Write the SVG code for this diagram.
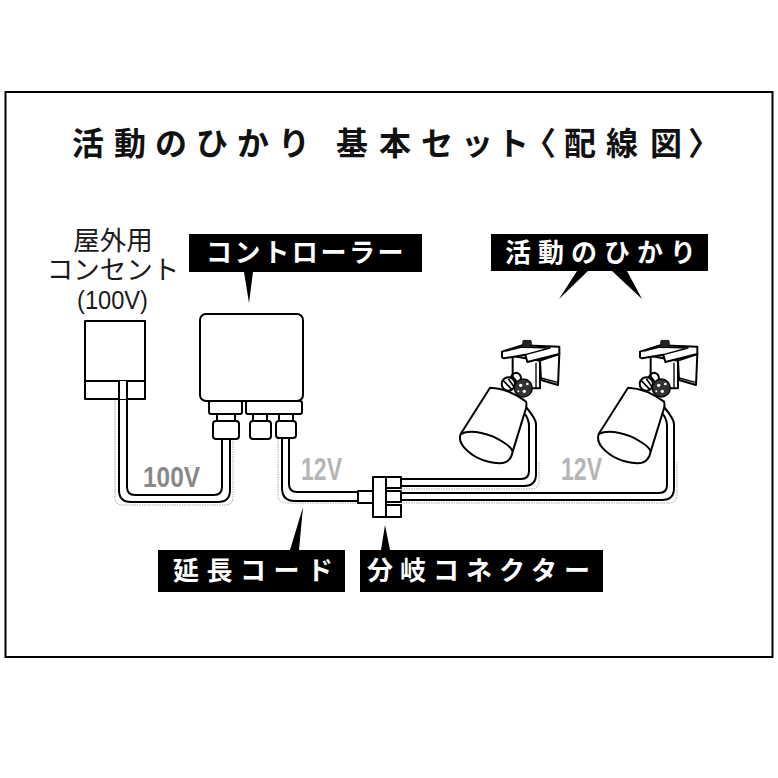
<svg xmlns="http://www.w3.org/2000/svg" width="778" height="778" viewBox="0 0 778 778">
<style>
.o{fill:#fff;stroke:#000;stroke-width:2;stroke-linejoin:round}
.c{fill:none;stroke:#000;stroke-width:2}
.d{fill:none;stroke:#aaa;stroke-width:1;stroke-dasharray:1.5 1}
.t{font-family:"Noto Sans CJK JP",sans-serif}
.w{fill:#fff;font-weight:700;font-size:26px}
.k{fill:#1a1a1a;font-size:26.500px;text-anchor:middle}
.n{font-family:"Liberation Sans",sans-serif}
.g{font-weight:700}
.b{fill:#000}
</style>
<defs>
<g id="lamp">
<g fill="#fff" stroke="#000" stroke-width="6" stroke-linejoin="round">
<path d="M218 108 L218 170 L245 205 L300 205 L300 122 Z"/>
<path d="M300 122 L358 102 L354 195 L303 180 Z"/>
<path fill="none" stroke-width="4" d="M288 128 L288 205"/>
<path fill="none" stroke-width="4" d="M303 174 L355 188"/>
<path d="M186 95 L245 76 L358 80 L358 102 L262 126 L256 104 L192 115 L186 112 Z"/>
<path fill="none" stroke-width="4" d="M198 93 L245 81 L330 84 L256 104"/>
<rect x="248" y="61" width="26" height="22" rx="4" fill="#222" stroke-width="2"/>
<path fill="none" stroke-width="6" d="M208 182 Q215 158 230 158 Q245 162 243 182"/>
<circle cx="205" cy="192" r="20"/>
<path fill="none" stroke-width="5" d="M190 182 L215 208 M205 176 L222 200"/>
<circle cx="250" cy="204" r="27" fill="#333" stroke-width="4"/>
<circle cx="242" cy="196" r="5" fill="#fff" stroke="none"/>
<circle cx="262" cy="192" r="4" fill="#fff" stroke="none"/>
<circle cx="253" cy="214" r="5" fill="#fff" stroke="none"/>
<circle cx="235" cy="214" r="3" fill="#fff" stroke="none"/>
<path d="M150 203 Q205 205 258 245 Q262 255 255 275 L218 395 Q212 430 178 430 Q110 425 72 382 Q55 362 62 342 Z"/>
<path fill="none" d="M62 342 Q95 325 160 350 Q215 378 218 395"/>
</g>
</g>
</defs>
<rect id="frame" x="5.500" y="92" width="767" height="565" fill="#fff" stroke="#000" stroke-width="2"/>
<text id="title" class="t" x="72 114 155 196 237 278 310 336 379 421 461 497 524 564 606 650 688" y="155" font-size="32" font-weight="700" fill="#111">活動のひかり 基本セット〈配線図〉</text>

<g id="connectors">
<path class="d" d="M115 381 V497 Q115 505 123 505 H225 Q233 505 233 497 V439"/>
<path class="c" d="M119 381 V490 Q119 502 131 502 H218 Q230 502 230 490 V439"/>
<path class="c" d="M127 381 V487 Q127 495 135 495 H214 Q222 495 222 487 V439"/>
<path class="d" d="M278 439 V495 Q278 503 286 503 H358"/>
<path class="c" d="M282 439 V488 Q282 501 295 501 H358"/>
<path class="c" d="M289 439 V484 Q289 492 297 492 H358"/>
<path class="d" d="M401 489 H531 Q539 489 539 481 V462"/>
<path class="c" d="M401 479 H521 Q529 479 529 471 V426 Q529 420 525 414"/>
<path class="c" d="M401 486 H524 Q536 486 536 474 V424 Q536 419 526 407"/>
<path class="d" d="M401 503 H669 Q677 503 677 495 V462"/>
<path class="c" d="M401 493 H659 Q667 493 667 485 V426 Q667 420 663 414"/>
<path class="c" d="M401 500 H662 Q674 500 674 488 V424 Q674 419 664 407"/>
</g>

<g id="outlet">
<rect class="o" x="85" y="321" width="60" height="78"/>
<path class="c" d="M85 381 H145"/>
<path class="o" d="M119 381 H127 V399 H119 Z" style="stroke:none"/>
<path class="c" d="M119 381 V399 M127 381 V399"/>
<text class="t k" x="113" y="250">屋外用</text>
<text class="t k" x="113" y="279">コンセント</text>
<text class="n" x="77" y="309" font-size="26" textLength="71" lengthAdjust="spacingAndGlyphs" fill="#1a1a1a">(100V)</text>
</g>

<g id="controller">
<rect class="o" x="200" y="314" width="103" height="87" rx="6"/>
<rect class="o" x="209" y="401" width="33" height="13" rx="2"/>
<rect class="o" x="246" y="401" width="56" height="13" rx="2"/>
<rect class="o" x="217" y="414" width="18" height="7"/>
<rect class="o" x="213" y="421" width="26" height="18" rx="3"/>
<path class="c" d="M216 439 H236" stroke-width="3"/>
<rect class="o" x="253" y="414" width="14" height="7"/>
<rect class="o" x="250" y="421" width="21" height="18" rx="3"/>
<rect class="o" x="279" y="414" width="14" height="7"/>
<rect class="o" x="276" y="421" width="20" height="17" rx="3"/>
</g>

<g id="splitter">
<rect class="o" x="358" y="491" width="15" height="12"/>
<rect class="o" x="373" y="477" width="13" height="40"/>
<rect class="o" x="386" y="477" width="15" height="11"/>
<rect class="o" x="386" y="491" width="15" height="11"/>
<rect class="o" x="386" y="505" width="15" height="12"/>
</g>

<g id="lamp1" transform="translate(440 320) scale(.33333)"><use href="#lamp"/></g>
<g id="lamp2" transform="translate(578 320) scale(.33333)"><use href="#lamp"/></g>

<text id="v100" class="n g" x="143" y="487" font-size="30" textLength="57" lengthAdjust="spacingAndGlyphs" fill="#888">100V</text>
<text id="v12a" class="n g" x="301" y="480" font-size="32" textLength="41" lengthAdjust="spacingAndGlyphs" fill="#b5b5b5">12V</text>
<text id="v12b" class="n g" x="561" y="480" font-size="32" textLength="41" lengthAdjust="spacingAndGlyphs" fill="#b5b5b5">12V</text>

<g id="label-controller">
<path class="b" d="M189 234 H422 V272 H253 L249 303 L244 272 H189 Z"/>
<text class="t w" x="206" y="262" letter-spacing="2.600">コントローラー</text>
</g>
<g id="label-lamp">
<path class="b" d="M491 234 H708 V271 H627 L642 299 L612 271 H588 L559 299 L577 271 H491 Z"/>
<text class="t w" x="505" y="262" letter-spacing="7">活動のひかり</text>
</g>
<g id="label-cord">
<path class="b" d="M158 550 H290 L303 507 L299 550 H345 V592 H158 Z"/>
<text class="t w" x="173" y="580" letter-spacing="7.500">延長コード</text>
</g>
<g id="label-splitter">
<path class="b" d="M360 550 H381 L385 525 L390 550 H603 V592 H360 Z"/>
<text class="t w" x="367" y="580" letter-spacing="7">分岐コネクター</text>
</g>
</svg>
